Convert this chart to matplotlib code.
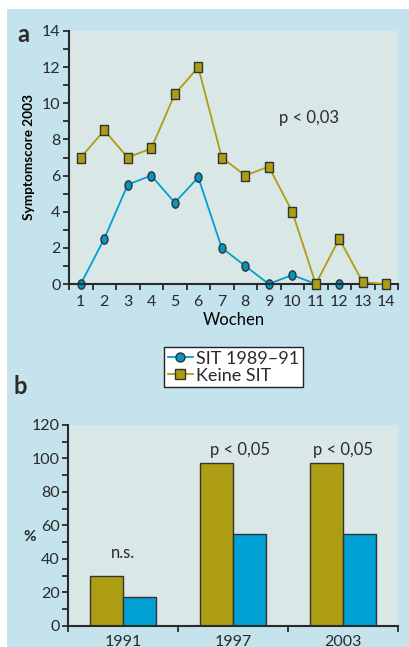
import matplotlib
matplotlib.use('Agg')
import matplotlib.pyplot as plt
import matplotlib.transforms as mtransforms
from matplotlib.lines import Line2D
from matplotlib.patches import Rectangle
from matplotlib.path import Path
import numpy as np

# panel a: symptom score per week
weeks = list(range(1, 15))
keine_sit = [7, 8.5, 7, 7.5, 10.5, 12, 7, 6, 6.5, 4, 0, 2.5, 0.1, 0]
sit_weeks = list(range(1, 13))
sit = [0, 2.5, 5.5, 6, 4.5, 5.9, 2, 1, 0, 0.5, 0, 0]

# panel b: percentages per year
years = ['1991', '1997', '2003']
pct_keine = [29.5, 97.5, 97]
pct_sit = [17, 55, 55]
notes = ['n.s.', 'p < 0,05', 'p < 0,05']

OLIVE = '#ad9d12'
BLUE = '#00a0d4'
BG = '#c4e3ec'
PLOT_BG = '#d9e7e7'
DARK = '#2a2a2a'

plt.rcParams['font.family'] = ['Lato', 'DejaVu Sans']
plt.rcParams['font.size'] = 11
plt.rcParams['text.color'] = DARK
plt.rcParams['xtick.color'] = DARK
plt.rcParams['ytick.color'] = DARK

fig = plt.figure(figsize=(4.09, 6.47), dpi=100, facecolor='white')
fig.patches.append(Rectangle((7 / 409, 0), 1, 1 - 9 / 647, transform=fig.transFigure,
                             facecolor=BG, edgecolor='none', zorder=-10))

# markers in the original are slightly taller than wide
stretch = mtransforms.Affine2D().scale(0.75, 1.0)
ellipse = Path.unit_circle().transformed(stretch)
tall_sq = Path.unit_rectangle().transformed(
    mtransforms.Affine2D().translate(-0.5, -0.5) + stretch)


def style_axes(ax):
    ax.set_facecolor(PLOT_BG)
    for s in ['top', 'right']:
        ax.spines[s].set_visible(False)
    for s in ['left', 'bottom']:
        ax.spines[s].set_color(DARK)
        ax.spines[s].set_linewidth(1.5)
    ax.tick_params(which='both', direction='out', width=1.3)


# ---- a ----
ax1 = fig.add_axes([69 / 409, 1 - 284 / 647, 329 / 409, 253 / 647])
style_axes(ax1)
ax1.plot(weeks, keine_sit, color=OLIVE, linewidth=1.3, marker=tall_sq, markersize=7.2,
         markerfacecolor=OLIVE, markeredgecolor='#333333', markeredgewidth=1.0,
         zorder=3, clip_on=False)
ax1.plot(sit_weeks, sit, color=BLUE, linewidth=1.3, marker=ellipse, markersize=6.7,
         markerfacecolor='#0096c8', markeredgecolor='#333333', markeredgewidth=1.0,
         zorder=2, clip_on=False)
ax1.set_xlim(0.5, 14.5)
ax1.set_ylim(0, 14)
ax1.set_xticks(weeks)
ax1.set_xticks(np.arange(0.5, 15, 1), minor=True)
ax1.tick_params(axis='x', which='major', length=0, pad=8, labelsize=11.5)
ax1.tick_params(axis='x', which='minor', length=4)
ax1.set_yticks(range(0, 15, 2))
ax1.set_yticks(range(1, 14, 2), minor=True)
ax1.tick_params(axis='y', which='both', length=4, pad=2, labelsize=11.5)
ax1.set_xlabel('Wochen', fontsize=12, labelpad=2)
ax1.set_ylabel('Symptomscore 2003', fontsize=9.8, fontweight='bold', labelpad=5)
ax1.text(10.7, 9.2, 'p < 0,03', ha='center', va='center', fontsize=12)
fig.text(23 / 409, 1 - 34 / 647, 'a', fontsize=17, fontweight='bold',
         ha='center', va='center')

# ---- b ----
ax2 = fig.add_axes([68 / 409, 1 - 625.7 / 647, 330 / 409, 200.7 / 647])
style_axes(ax2)
x = np.arange(len(years))
w = 0.3
ax2.bar(x - w / 2, pct_keine, width=w, color=OLIVE, edgecolor='#333333', linewidth=1.0)
ax2.bar(x + w / 2, pct_sit, width=w, color=BLUE, edgecolor='#333333', linewidth=1.0)
ax2.set_xlim(-0.5, 2.5)
ax2.set_ylim(0, 120)
ax2.set_xticks(x)
ax2.set_xticklabels(years)
ax2.set_xticks([-0.5, 0.5, 1.5, 2.5], minor=True)
ax2.tick_params(axis='x', which='major', length=0, pad=7, labelsize=11.5)
ax2.tick_params(axis='x', which='minor', length=4)
ax2.set_yticks(range(0, 121, 20))
ax2.set_yticks(range(10, 120, 20), minor=True)
ax2.tick_params(axis='y', which='both', length=4, pad=2, labelsize=11.5)
fig.text(30 / 409, 1 - 537 / 647, '%', fontsize=11, fontweight='bold',
         ha='center', va='center')
for i, t in enumerate(notes):
    ax2.text(x[i] + (0.06 if i == 1 else 0.0), [43.5, 105, 105][i], t,
             ha='center', va='center', fontsize=12)
fig.text(20 / 409, 1 - 387 / 647, 'b', fontsize=17, fontweight='bold',
         ha='center', va='center')

handles = [
    Line2D([], [], color=BLUE, linewidth=1.3, marker='o', markersize=6.5,
           markerfacecolor='#0096c8', markeredgecolor='#333333'),
    Line2D([], [], color=OLIVE, linewidth=1.3, marker='s', markersize=6.5,
           markerfacecolor=OLIVE, markeredgecolor='#333333'),
]
leg = fig.legend(handles, ['SIT 1989\u201391', 'Keine SIT'], loc='upper left',
                 bbox_to_anchor=(164 / 409, 1 - 347 / 647), fontsize=13,
                 frameon=True, fancybox=False, framealpha=1, edgecolor='#222222',
                 handlelength=1.4, handletextpad=0.2, borderpad=0.2,
                 labelspacing=0.05, borderaxespad=0)
leg.get_frame().set_linewidth(1.0)

fig.savefig('out.png', dpi=100, facecolor=fig.get_facecolor())
